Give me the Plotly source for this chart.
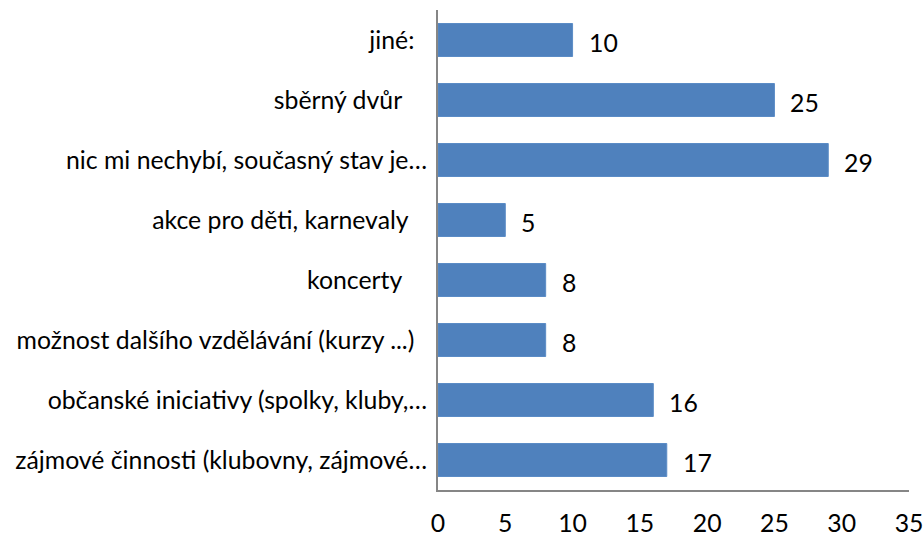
import plotly.graph_objects as go

categories = [
    "zájmové činnosti (klubovny, zájmové…",
    "občanské iniciativy (spolky, kluby,…",
    "možnost dalšího vzdělávání (kurzy ...)\u00a0\u00a0",
    "koncerty\u00a0\u00a0\u00a0\u00a0",
    "akce pro děti, karnevaly\u00a0\u00a0\u00a0",
    "nic mi nechybí, současný stav je…",
    "sběrný dvůr\u00a0\u00a0\u00a0\u00a0",
    "jiné:\u00a0\u00a0",
]
values = [17, 16, 8, 8, 5, 29, 25, 10]

font_family = "Lato, Carlito, Calibri, sans-serif"
fs = 24.8

fig = go.Figure()
fig.add_trace(go.Bar(
    y=categories,
    x=values,
    orientation="h",
    marker=dict(color="#4F81BD", line=dict(color="#5B8CC6", width=1)),
    hoverinfo="x+y",
))

for c, v in zip(categories, values):
    fig.add_annotation(
        x=v, y=c, text=str(v), showarrow=False,
        xanchor="left", xshift=14, yshift=-2,
        font=dict(family=font_family, size=fs, color="#000000"),
    )

fig.update_layout(
    width=924, height=536,
    margin=dict(l=438, r=15, t=10, b=46),
    paper_bgcolor="white",
    plot_bgcolor="white",
    bargap=0.45,
    showlegend=False,
    font=dict(family=font_family, size=fs, color="#000000"),
)
fig.update_xaxes(
    range=[0, 35], dtick=5, tick0=0,
    showgrid=False, zeroline=False,
    showline=True, linecolor="#868686", linewidth=2,
    ticks="", ticklabelstandoff=10, automargin=False,
    tickfont=dict(family=font_family, size=fs, color="#000000"),
)
fig.update_yaxes(
    showgrid=False, zeroline=False,
    showline=True, linecolor="#868686", linewidth=2,
    ticks="", ticklabelstandoff=4, automargin=False,
    tickfont=dict(family=font_family, size=fs, color="#000000"),
    categoryorder="array", categoryarray=categories,
)

# remove the browser's default 8px body margin so the figure fills the window exactly
fig.write_html(
    "out.html",
    config={"displayModeBar": False},
    post_script="document.body.style.margin='0';document.body.style.overflow='hidden';",
)
